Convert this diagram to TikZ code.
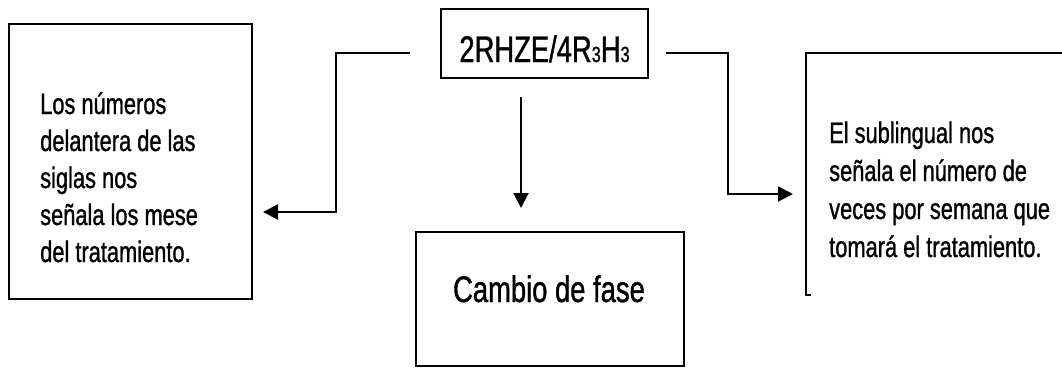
\documentclass[tikz,border=0pt]{standalone}
\usepackage{fontspec}
\setmainfont{Liberation Sans}
\newfontfamily\nfont[FakeStretch=0.74,FakeBold=1]{Liberation Sans}
\usetikzlibrary{arrows.meta}
\tikzset{
  box/.style={draw, line width=2pt, inner sep=0pt},
  conn/.style={line width=2pt, -{Triangle[length=15pt,width=15pt]}},
  sidetext/.style={inner sep=0pt, align=left, font=\nfont\fontsize{29.5}{37}\selectfont},
  rsidetext/.style={inner sep=0pt, align=left, font=\nfont\fontsize{29.5}{38}\selectfont},
  bigtext/.style={inner sep=0pt, font=\nfont\fontsize{37}{40}\selectfont},
}
\begin{document}
\begin{tikzpicture}[x=1pt,y=-1pt]
\useasboundingbox (0,0) rectangle (1062,368);
% boxes
\node[box, minimum width=243pt, minimum height=275pt] (lbox) at (130.5,161.5) {};
\node[box, minimum width=207pt, minimum height=69pt] (tbox) at (544.5,43.5) {};
\node[box, minimum width=268pt, minimum height=134pt] (bbox) at (550,299) {};
% partial right box
\coordinate (rtl) at (806,53);
\coordinate (rtr) at (1075,53);
\coordinate (rbl) at (806,295);
\coordinate (rbs) at (811,295);
\draw[line width=2pt] (rtr) -- (rtl) -- (rbl) -- (rbs);
% texts (anchor = baseline of last line)
\node[sidetext, anchor=base west] (ltext) at (40,262) {Los números\\delantera de las\\siglas nos\\señala los mese\\del tratamiento.};
\node[rsidetext, anchor=base west] (rtext) at (829,257) {El sublingual nos\\señala el número de\\veces por semana que\\tomará el tratamiento.};
\node[bigtext, anchor=base] (ttext) at (tbox.center |- 0,62) {2RHZE/4R{\fontsize{22}{22}\selectfont 3}H{\fontsize{22}{22}\selectfont 3}};
\node[bigtext, anchor=base] (btext) at (549,302) {Cambio de fase};
% connectors
\coordinate (ls) at (410,53);
\coordinate (lc1) at (336,53);
\coordinate (lc2) at (336,212);
\coordinate (lt) at (263,212);
\draw[conn] (ls) -- (lc1) -- (lc2) -- (lt);
\coordinate (rs) at (666,53);
\coordinate (rc1) at (728,53);
\coordinate (rc2) at (728,194);
\coordinate (rt) at (793,194);
\draw[conn] (rs) -- (rc1) -- (rc2) -- (rt);
\coordinate (ms) at (521,97);
\coordinate (mt) at (521,208);
\draw[conn] (ms) -- (mt);
\end{tikzpicture}
\end{document}
